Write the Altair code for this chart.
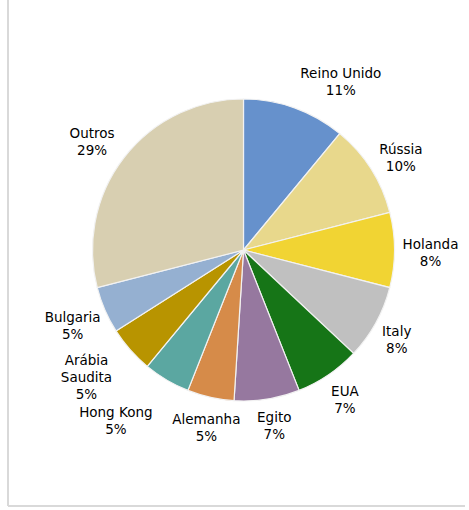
import math
import altair as alt
import pandas as pd

# Share of exports by destination (%), clockwise from 12 o'clock
countries = ["Reino Unido", "Rússia", "Holanda", "Italy", "EUA", "Egito",
             "Alemanha", "Hong Kong", "Arábia\nSaudita", "Bulgaria", "Outros"]
shares = [11, 10, 8, 8, 7, 7, 5, 5, 5, 5, 29]
colors = ["#6691cc", "#e8d88c", "#f1d433", "#c0c0c0", "#167517", "#96789f",
          "#d68b49", "#5ba7a1", "#b89400", "#95b0d1", "#d8cfb1"]

df = pd.DataFrame({
    "pais": countries,
    "valor": shares,
    "ordem": list(range(len(countries))),
})
df["rotulo"] = df["pais"] + "\n" + df["valor"].astype(str) + "%"
# angular midpoint of each slice, on the same 0-100 scale as the shares
df["meio"] = df["valor"].cumsum() - df["valor"] / 2

pie = alt.Chart(df).mark_arc(radius=151, stroke="#f2f2f2", strokeWidth=1.2).encode(
    theta=alt.Theta("valor:Q", stack=True),
    order=alt.Order("ordem:Q"),
    color=alt.Color("pais:N", scale=alt.Scale(domain=countries, range=colors), legend=None),
)

theta_mid = alt.Theta("meio:Q", stack=None,
                      scale=alt.Scale(domain=[0, 100], range=[0, 2 * math.pi]))

# per-label nudges (dx, dy) away from the slice bisector at the label radius
nudges = {
    "Reino Unido": (35, -3),
    "Rússia": (2, -1),
    "Holanda": (3, -5),
    "Italy": (-8, -7),
    "EUA": (-2, -10),
    "Egito": (2, -14),
    "Alemanha": (3, -10),
    "Hong Kong": (-34, 5),
    "Arábia\nSaudita": (-19, -11),
    "Bulgaria": (-2, -5),
    "Outros": (-6, -3),
}

def label_layer(name, dx, dy):
    return alt.Chart(df).mark_text(
        radius=184, font="DejaVu Sans", fontSize=13.5, color="#000000",
        lineBreak="\n", lineHeight=17, align="center", baseline="middle",
        dx=dx, dy=dy,
    ).encode(
        theta=theta_mid, text="rotulo:N"
    ).transform_filter(f"datum.pais == {repr(name)}")

layers = [pie] + [label_layer(k, dx, dy) for k, (dx, dy) in nudges.items()]

# light frame on the left and bottom of the chart area
frame = alt.Chart(pd.DataFrame({"a": [0]})).mark_rule(color="#d9d9d9", strokeWidth=2).encode(
    x=alt.value(-10), y=alt.value(-2), y2=alt.value(506)
)
frame_b = alt.Chart(pd.DataFrame({"a": [0]})).mark_rule(color="#d9d9d9", strokeWidth=2).encode(
    x=alt.value(-10), x2=alt.value(447), y=alt.value(506)
)

chart = alt.layer(frame, frame_b, *layers).properties(
    width=451, height=500,
    padding={"left": 18, "top": 0, "right": 0, "bottom": 10},
    autosize=alt.AutoSizeParams(type="none"),
).configure_view(stroke=None)

chart.save("out.html", embed_options={"renderer": "svg", "actions": False})
